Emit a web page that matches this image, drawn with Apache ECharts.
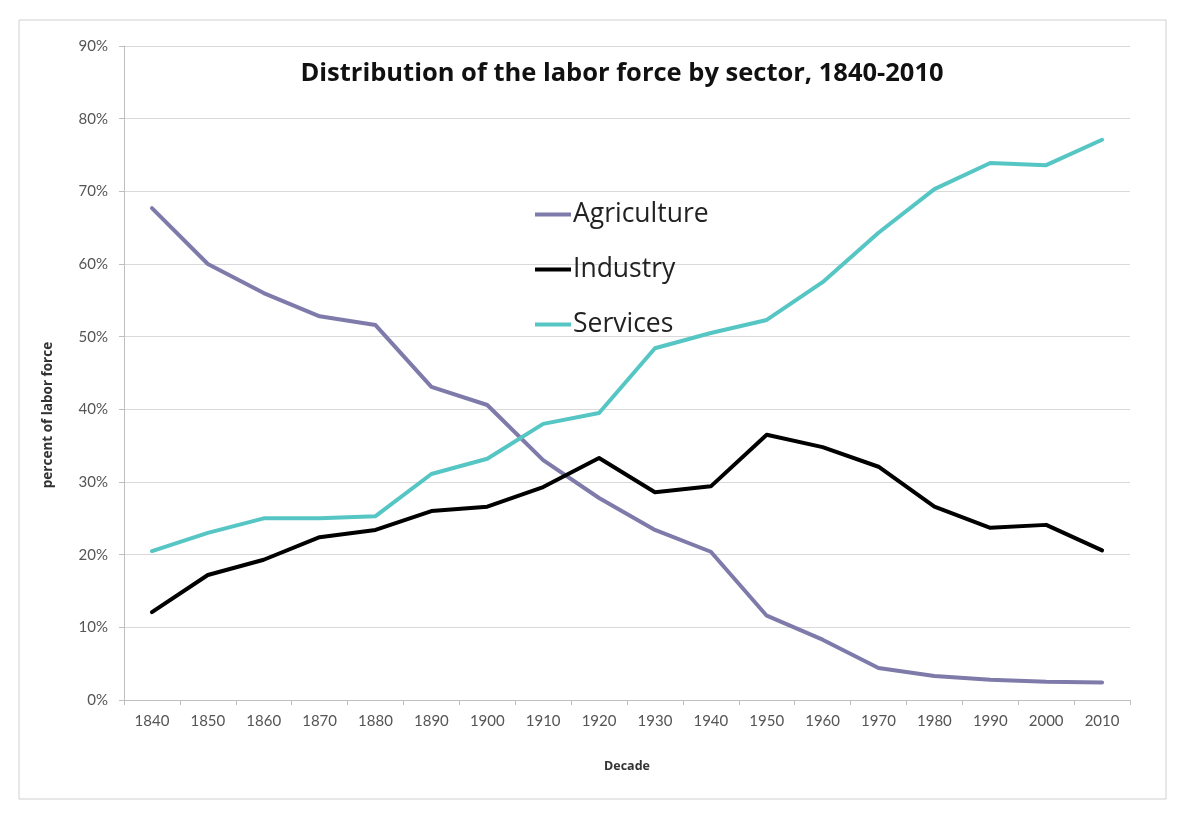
<!DOCTYPE html>
<html><head><meta charset="utf-8">
<script src="https://cdn.jsdelivr.net/npm/echarts@6/dist/echarts.min.js"></script>
<style>html,body{margin:0;padding:0;background:#fff}#c{width:1200px;height:819px}</style>
</head><body><div id="c"></div>
<script>
const decades = ['1840','1850','1860','1870','1880','1890','1900','1910','1920','1930','1940','1950','1960','1970','1980','1990','2000','2010'];
const agriculture = [67.7,60.0,56.0,52.8,51.6,43.1,40.6,33.0,27.8,23.4,20.4,11.6,8.3,4.4,3.3,2.8,2.5,2.4];
const industry = [12.1,17.2,19.3,22.4,23.4,26.0,26.6,29.3,33.3,28.6,29.4,36.5,34.8,32.1,26.6,23.7,24.1,20.6];
const services = [20.5,23.0,25.0,25.0,25.3,31.1,33.2,38.0,39.5,48.4,50.5,52.3,57.5,64.3,70.3,73.9,73.6,77.1];
const yTicks = [0,10,20,30,40,50,60,70,80,90];

const chart = echarts.init(document.getElementById('c'));
const font = 'Lato, "Open Sans", sans-serif';
const font2 = '"Open Sans", Lato, sans-serif';
function mk(name, data, color){
  return {name, type:'line', data, showSymbol:false, symbol:'none', smooth:false,
    lineStyle:{color, width:4, cap:'round', join:'round'}, itemStyle:{color}, animation:false};
}
chart.setOption({
  animation:false,
  backgroundColor:'#fff',
  graphic:[
    {type:'rect', shape:{x:19,y:20,width:1147,height:779}, style:{fill:'none', stroke:'#d0d0d0', lineWidth:1}, silent:true, z:-1},
    {type:'text', x:48, y:415, rotation:Math.PI/2, silent:true,
      style:{text:'percent of labor force', align:'center', verticalAlign:'middle', fill:'#333',
        font:'bold 13.5px "Open Sans", Lato, sans-serif'}}
  ],
  title:{text:'Distribution of the labor force by sector, 1840-2010', left:617, top:56, textAlign:'center',
    textStyle:{fontFamily:font2, fontSize:25.5, fontWeight:'bold', color:'#111'}},
  legend:{orient:'vertical', left:535, top:199, padding:0, icon:'rect', itemWidth:36, itemHeight:4, itemGap:24,
    textStyle:{fontFamily:font2, fontSize:26.5, color:'#222', padding:[0,0,0,-3], lineHeight:31},
    data:['Agriculture','Industry','Services']},
  grid:{left:124, right:70, top:46, bottom:119},
  xAxis:{type:'category', data:decades, boundaryGap:true,
    name:'Decade', nameLocation:'middle', nameGap:60,
    nameTextStyle:{fontFamily:font2, fontSize:12.5, fontWeight:'bold', color:'#333'},
    axisLine:{lineStyle:{color:'#bfbfbf', width:1}},
    axisTick:{show:true, length:5, lineStyle:{color:'#bfbfbf'}},
    axisLabel:{fontFamily:font, fontSize:15, color:'#555', margin:14}},
  yAxis:{type:'value', min:0, max:90, interval:10,
    axisLine:{show:true, lineStyle:{color:'#bfbfbf', width:1}},
    axisTick:{show:true, length:5, lineStyle:{color:'#bfbfbf'}},
    axisLabel:{fontFamily:font, fontSize:15, color:'#555', margin:16,
      formatter:v => yTicks.includes(v) ? v + '%' : ''},
    splitLine:{lineStyle:{color:'#d9d9d9', width:1}}},
  series:[mk('Agriculture', agriculture, '#7e7aaa'), mk('Industry', industry, '#000000'), mk('Services', services, '#55c6c4')]
});
</script></body></html>
